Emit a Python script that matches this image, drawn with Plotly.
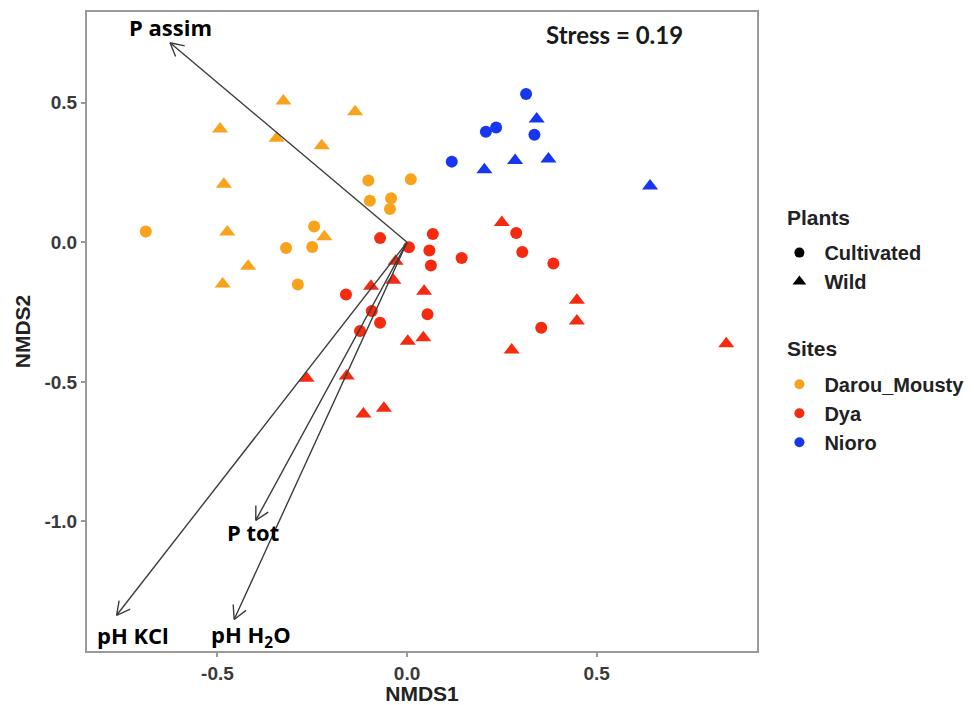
import math
import plotly.graph_objects as go

# ---------------- data ----------------
darou_cult_x = [-0.689, -0.102, 0.010, -0.098, -0.042, -0.045, -0.245, -0.250, -0.319, -0.288]
darou_cult_y = [0.039, 0.221, 0.226, 0.149, 0.158, 0.119, 0.057, -0.017, -0.020, -0.151]
darou_wild_x = [-0.326, -0.137, -0.493, -0.344, -0.225, -0.483, -0.474, -0.218, -0.419, -0.486]
darou_wild_y = [0.506, 0.468, 0.406, 0.373, 0.346, 0.208, 0.037, 0.020, -0.086, -0.149]

dya_cult_x = [-0.071, 0.005, -0.161, -0.093, -0.071, -0.124, 0.068, 0.059, 0.063, 0.144,
              0.288, 0.304, 0.386, 0.054, 0.354]
dya_cult_y = [0.015, -0.018, -0.187, -0.246, -0.288, -0.318, 0.030, -0.029, -0.083, -0.056,
              0.033, -0.035, -0.076, -0.258, -0.306]
dya_wild_x = [-0.030, -0.036, -0.095, 0.002, -0.265, -0.159, -0.115, -0.061, 0.250, 0.045,
              0.043, 0.276, 0.448, 0.448, 0.842]
dya_wild_y = [-0.068, -0.136, -0.157, -0.354, -0.487, -0.479, -0.615, -0.594, 0.071, -0.175,
              -0.342, -0.386, -0.208, -0.282, -0.363]

nioro_cult_x = [0.314, 0.208, 0.235, 0.336, 0.118]
nioro_cult_y = [0.531, 0.396, 0.411, 0.385, 0.289]
nioro_wild_x = [0.342, 0.204, 0.285, 0.373, 0.641]
nioro_wild_y = [0.442, 0.260, 0.293, 0.298, 0.202]

vec_names = ["P assim", "P tot", "pH KCl", "pH H<sub>2</sub>O"]
vec_x = [-0.625, -0.399, -0.766, -0.456]
vec_y = [0.715, -0.996, -1.336, -1.351]
lab_x = [-0.625, -0.406, -0.722, -0.412]
lab_y = [0.770, -1.038, -1.405, -1.412]

stress_text = "Stress = 0.19"

sites = ["Darou_Mousty", "Dya", "Nioro"]
site_colors = ["#F8A31B", "#F42B10", "#1636F2"]
plants = ["Cultivated", "Wild"]

# ---------------- layout geometry ----------------
W, H = 966, 697          # page body adds an 8px margin
ML, MR, MT, MB = 79, 217, 2, 54
xr = [-0.844, 0.923]
yr = [-1.464, 0.825]
pw = W - ML - MR
ph = H - MT - MB
sx = pw / (xr[1] - xr[0])
sy = ph / (yr[1] - yr[0])

fig = go.Figure()

groups = [
    (darou_cult_x, darou_cult_y, 0, "circle"),
    (darou_wild_x, darou_wild_y, 0, "triangle-up"),
    (dya_cult_x, dya_cult_y, 1, "circle"),
    (dya_wild_x, dya_wild_y, 1, "triangle-up"),
    (nioro_cult_x, nioro_cult_y, 2, "circle"),
    (nioro_wild_x, nioro_wild_y, 2, "triangle-up"),
]
for gx, gy, si, sym in groups:
    fig.add_trace(go.Scatter(
        x=gx, y=gy, mode="markers", showlegend=False, hoverinfo="skip",
        marker=dict(symbol=sym, color=site_colors[si],
                    size=12 if sym == "circle" else 14, line=dict(width=0))))

# arrows (shaft + open head), head arms computed in pixel space
arrow_color = "#3d3d3d"
head_len = 15
head_ang = math.radians(28)
for vx, vy in zip(vec_x, vec_y):
    px, py = vx * sx, vy * sy
    L = math.hypot(px, py)
    ux, uy = -px / L, -py / L
    arms = []
    for s in (1, -1):
        c, sn = math.cos(s * head_ang), math.sin(s * head_ang)
        rx = ux * c - uy * sn
        ry = ux * sn + uy * c
        arms.append((vx + rx * head_len / sx, vy + ry * head_len / sy))
    xs = [0, vx, arms[0][0], None, vx, arms[1][0]]
    ys = [0, vy, arms[0][1], None, vy, arms[1][1]]
    fig.add_trace(go.Scatter(x=xs, y=ys, mode="lines", showlegend=False, hoverinfo="skip",
                             line=dict(color=arrow_color, width=1.4)))

for name, lx, ly in zip(vec_names, lab_x, lab_y):
    fig.add_annotation(x=lx, y=ly, text=name, showarrow=False,
                       font=dict(family="Open Sans", size=22, color="black", weight="bold"))

fig.add_annotation(x=0.546, y=0.745, text=stress_text, showarrow=False,
                   font=dict(family="Lato", size=24, color="#1a1a1a", weight="bold"))

# legend titles as annotations
title_font = dict(family="Liberation Sans", size=21, color="#222222", weight="bold")
fig.add_annotation(xref="paper", yref="paper", x=1.0418, y=0.6786, xanchor="left",
                   yanchor="middle", text="Plants", showarrow=False, font=title_font)
fig.add_annotation(xref="paper", yref="paper", x=1.0418, y=0.4727, xanchor="left",
                   yanchor="middle", text="Sites", showarrow=False, font=title_font)

# legend entries
leg_font = dict(family="Liberation Sans", size=20, color="#222222", weight="bold")
for i, (p, sym) in enumerate(zip(plants, ["circle", "triangle-up"])):
    fig.add_trace(go.Scatter(x=[None], y=[None], mode="markers", name=p, legend="legend",
                             legendgroup="p" + str(i),
                             marker=dict(symbol=sym, color="black",
                                         size=10 if sym == "circle" else 12)))
for i, (s, c) in enumerate(zip(sites, site_colors)):
    fig.add_trace(go.Scatter(x=[None], y=[None], mode="markers", name=s, legend="legend2",
                             legendgroup="s" + str(i),
                             marker=dict(symbol="circle", color=c, size=10)))

axis_common = dict(showgrid=False, zeroline=False, showline=True, mirror=True,
                   linecolor="#9a9a9a", linewidth=2, ticks="outside", ticklen=4,
                   tickcolor="#9a9a9a", tickwidth=1.5,
                   tickfont=dict(family="Liberation Sans", size=19, color="#3a3a3a", weight="bold"))
axis_title_font = dict(family="Liberation Sans", size=21, color="#222222", weight="bold")

fig.update_layout(
    width=W, height=H,
    margin=dict(l=ML, r=MR, t=MT, b=MB),
    paper_bgcolor="white", plot_bgcolor="white",
    xaxis=dict(range=xr, tickvals=[-0.5, 0, 0.5], ticktext=["-0.5", "0.0", "0.5"],
               title=dict(text="NMDS1", standoff=2, font=axis_title_font),
               **axis_common),
    yaxis=dict(range=yr, tickvals=[-1.0, -0.5, 0, 0.5], ticktext=["-1.0", "-0.5", "0.0", "0.5"],
               title=dict(text="NMDS2", standoff=8, font=axis_title_font),
               **axis_common),
    legend=dict(x=1.026, y=0.654, xanchor="left", yanchor="top", tracegroupgap=0,
                itemwidth=40, font=leg_font, bgcolor="rgba(0,0,0,0)"),
    legend2=dict(x=1.026, y=0.448, xanchor="left", yanchor="top", tracegroupgap=0,
                 itemwidth=40, font=leg_font, bgcolor="rgba(0,0,0,0)"),
)

fig.write_html("out.html")
